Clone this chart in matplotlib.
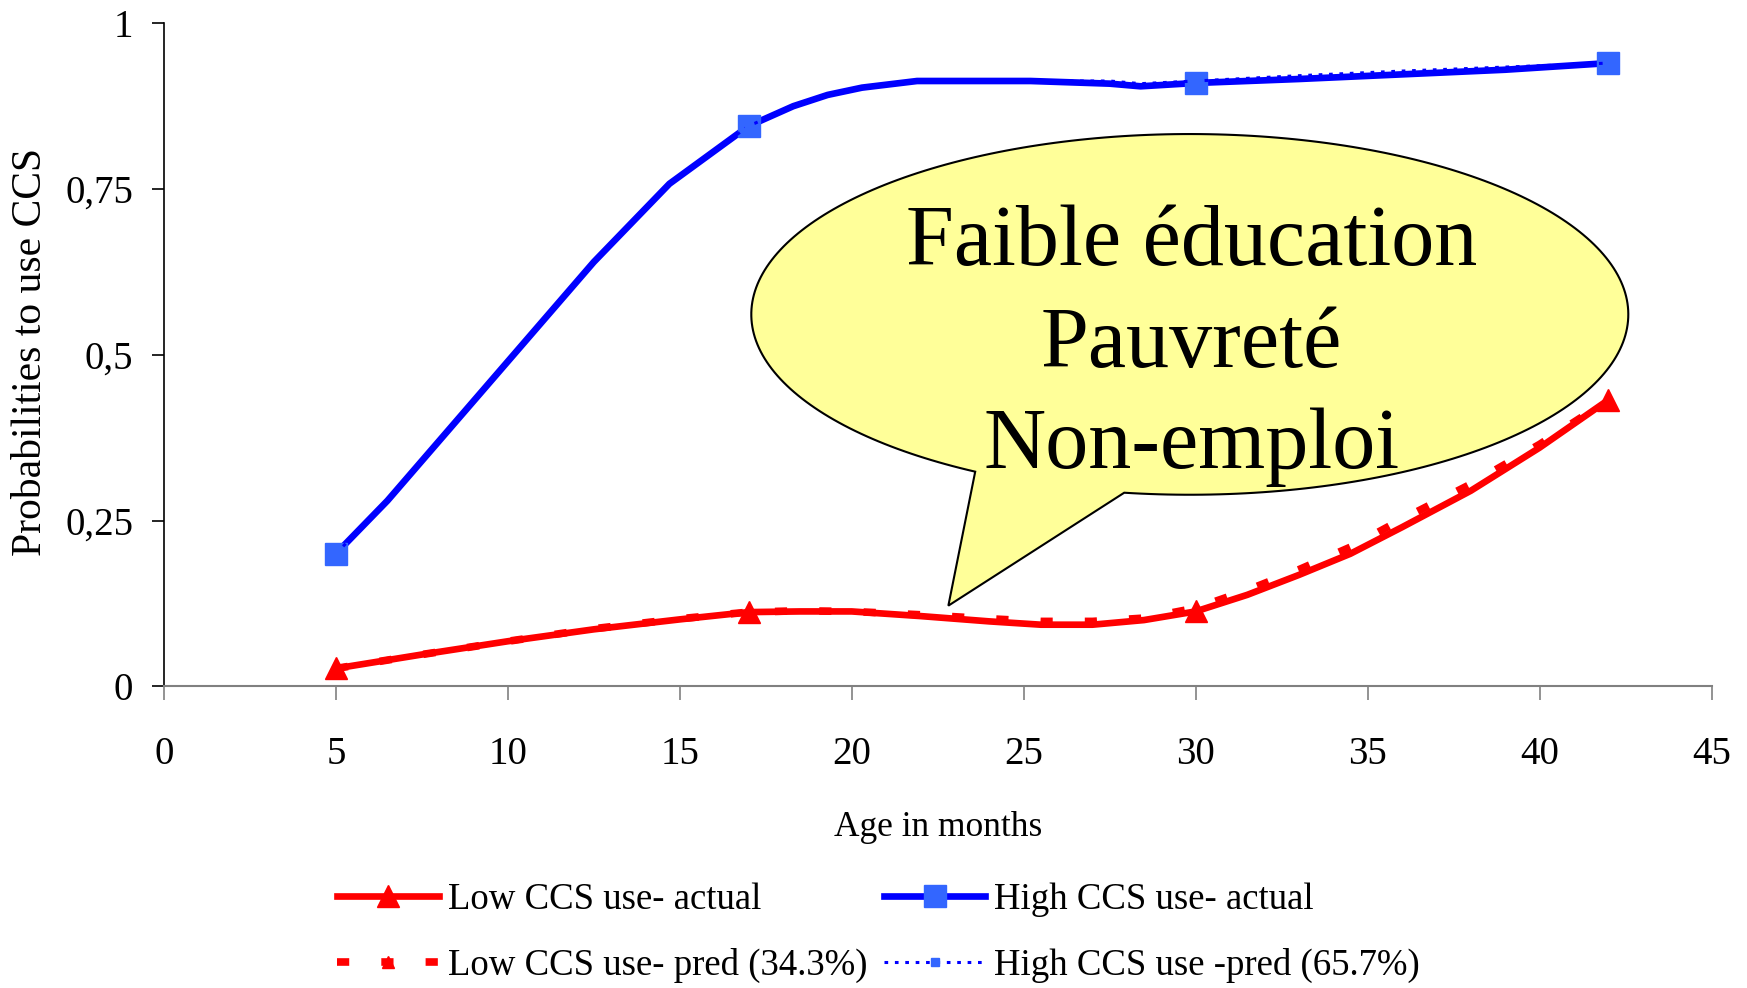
import numpy as np
import matplotlib
matplotlib.use("Agg")
import matplotlib.pyplot as plt
from matplotlib.patches import Polygon

plt.rcParams['font.family'] = ['Liberation Serif', 'DejaVu Serif']

# ages (months) and probabilities
age_hi = [5, 6.5, 8.5, 10.5, 12.5, 14.7, 17, 18.3, 19.3, 20.3, 21.9, 25.2, 27.5, 28.4, 30, 33, 36, 39, 42]
hi_actual = [0.20, 0.28, 0.40, 0.52, 0.64, 0.758, 0.845, 0.875, 0.892, 0.903, 0.913, 0.913, 0.909, 0.905, 0.910, 0.916, 0.923, 0.930, 0.940]
hi_pred = [0.20, 0.28, 0.40, 0.52, 0.64, 0.758, 0.845, 0.875, 0.892, 0.903, 0.913, 0.913, 0.913, 0.909, 0.913, 0.921, 0.928, 0.934, 0.940]

age_lo = [5, 7.5, 10, 12.5, 15, 17, 18.5, 20, 22, 24, 25.5, 27, 28.5, 30, 31.5, 33, 34.5, 36, 38, 40, 42]
lo_actual = [0.027, 0.048, 0.068, 0.086, 0.101, 0.112, 0.113, 0.113, 0.106, 0.098, 0.093, 0.093, 0.100, 0.113,
             0.138, 0.168, 0.200, 0.240, 0.295, 0.360, 0.432]
lo_pred = [0.027, 0.048, 0.068, 0.087, 0.102, 0.112, 0.114, 0.113, 0.108, 0.102, 0.098, 0.098, 0.103, 0.118,
           0.145, 0.176, 0.210, 0.252, 0.305, 0.365, 0.432]

marked_ages = [5, 17, 30, 42]
labels = ["Low CCS use- actual", "High CCS use- actual",
          "Low CCS use- pred (34.3%)", "High CCS use -pred (65.7%)"]
callout_lines = ["Faible éducation", "Pauvreté", "Non-emploi"]
yticks = [0, 0.25, 0.5, 0.75, 1]
ytick_labels = ["0", "0,25", "0,5", "0,75", "1"]


def mark_idx(ages):
    return [ages.index(a) for a in marked_ages]


fig = plt.figure(figsize=(17.47, 9.88), dpi=100)
ax = fig.add_axes([0.0938, 0.3053, 0.8859, 0.6711])

l_lo, = ax.plot(age_lo, lo_actual, color='#FF0000', lw=4.8, marker='^', ms=16.5,
                markevery=mark_idx(age_lo), zorder=3, solid_joinstyle='round')
l_hi, = ax.plot(age_hi, hi_actual, color='#0000FF', lw=4.8, marker='s', ms=16.5,
                mfc='#3366FF', mec='#3366FF', markevery=mark_idx(age_hi), zorder=3,
                solid_joinstyle='round')
l_lop, = ax.plot(age_lo, lo_pred, color='#FF0000', lw=5.5, linestyle=(0, (1.6, 4.2)),
                 dash_capstyle='butt', marker='^', ms=8, markevery=mark_idx(age_lo), zorder=4)
l_hip, = ax.plot(age_hi, hi_pred, color='#0000FF', lw=2.2, linestyle=(0, (1.2, 2.2)),
                 marker='s', ms=6, mfc='#3366FF', mec='#3366FF',
                 markevery=mark_idx(age_hi), zorder=4)

ax.set_xlim(0, 45)
ax.set_ylim(0, 1)
ax.set_xticks(range(0, 50, 5))
ax.set_yticks(yticks)
ax.set_yticklabels(ytick_labels)

for s in ['top', 'right']:
    ax.spines[s].set_visible(False)
ax.spines['left'].set_color('black')
ax.spines['bottom'].set_color('#808080')
ax.spines['left'].set_linewidth(1.2)
ax.spines['bottom'].set_linewidth(1.5)
ax.tick_params(axis='x', direction='out', length=10, width=1.2, color='#808080',
               labelsize=28, pad=26)
ax.tick_params(axis='y', direction='out', length=9, width=1.2, color='black',
               labelsize=28, pad=13)

ax.set_xlabel("Age in months", fontsize=25.5)
ax.xaxis.label.set_va('center')
ax.xaxis.set_label_coords(0.5, -0.2136)
ax.set_ylabel("Probabilities to use CCS", fontsize=30)
ax.yaxis.label.set_va('center')
ax.yaxis.set_label_coords(-0.0858, 0.504)

# callout bubble
cx, cy, rx, ry = 29.83, 0.561, 12.75, 0.272
t1, t2 = np.deg2rad(261.4), np.deg2rad(600.7)
th = np.linspace(t1, t2, 300)
pts = list(zip(cx + rx * np.cos(th), cy + ry * np.sin(th)))
pts.append((22.81, 0.1217))
bubble = Polygon(pts, closed=True, facecolor='#FFFF99', edgecolor='black', lw=1.5, zorder=5)
ax.add_patch(bubble)
for txt, yb in zip(callout_lines, [0.635, 0.482, 0.329]):
    ax.text(29.87, yb, txt, fontsize=62, ha='center', va='baseline', zorder=6)

fig.legend([l_lo, l_lop, l_hi, l_hip], [labels[0], labels[2], labels[1], labels[3]],
           ncol=2, loc='center', bbox_to_anchor=(0.503, 0.056), frameon=False,
           fontsize=26.5, handlelength=2.75, handletextpad=0.25, columnspacing=0.45,
           labelspacing=0.85, borderaxespad=0)

fig.savefig("out.png", dpi=100)
